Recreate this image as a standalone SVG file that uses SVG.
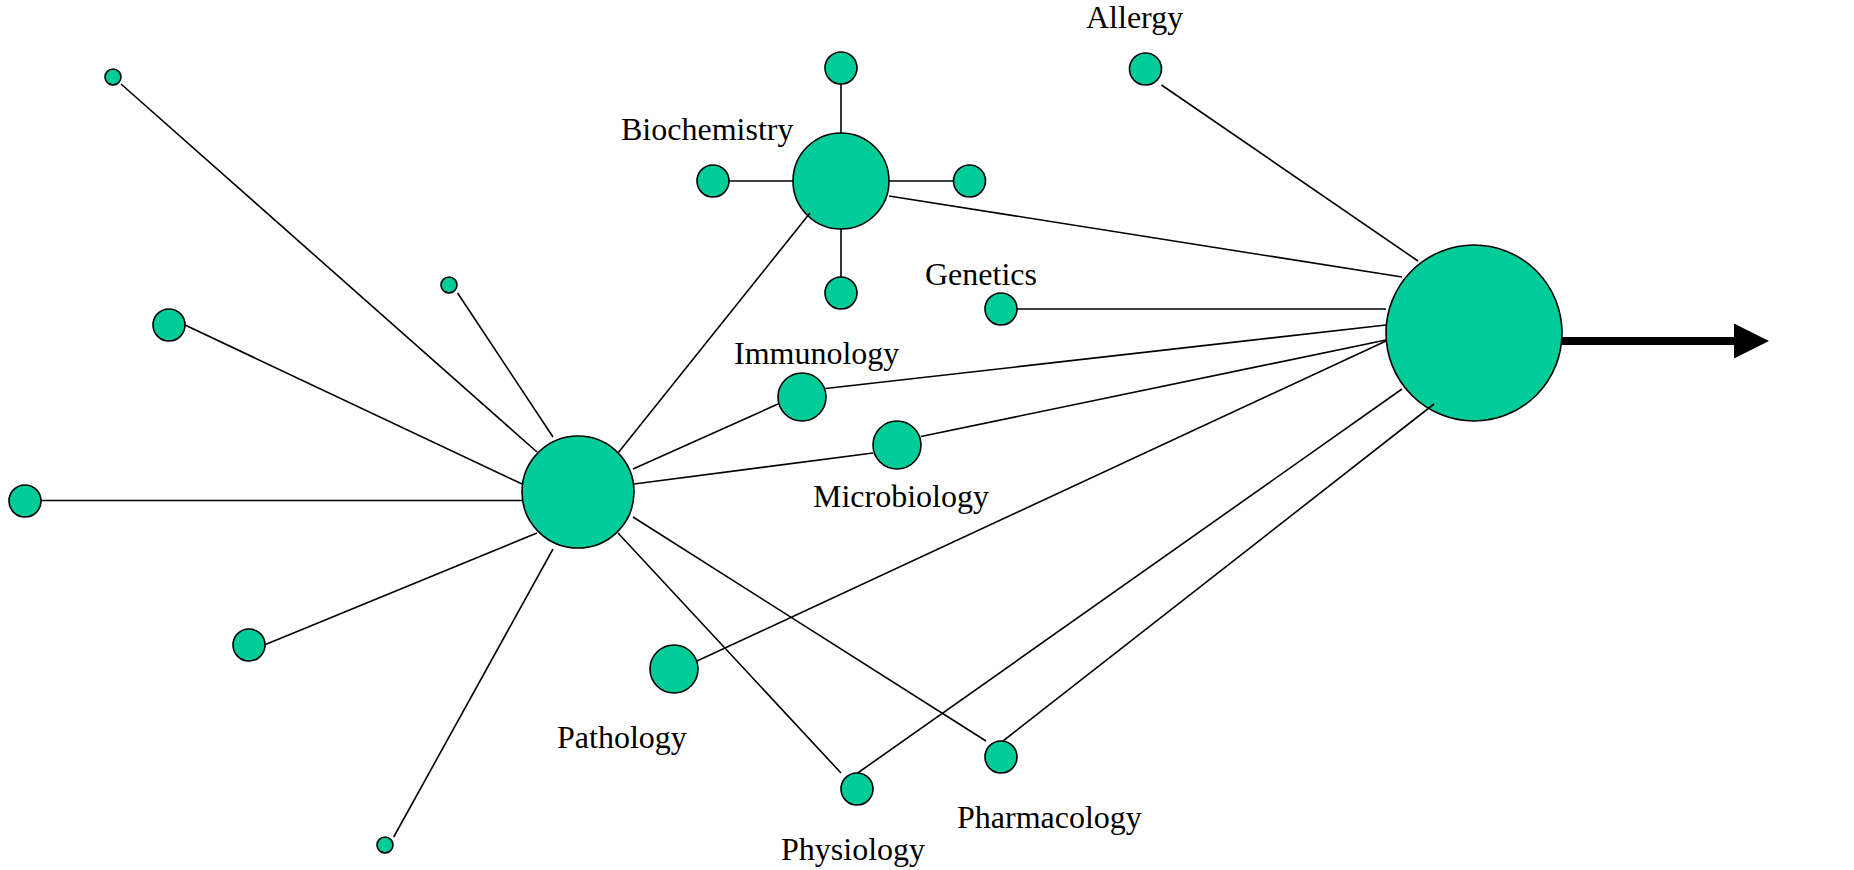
<svg xmlns="http://www.w3.org/2000/svg" width="1854" height="870" viewBox="0 0 1854 870">
<style>
.n{fill:#00CC99;stroke:#000;stroke-width:1.6}
.c line{stroke:#000;stroke-width:1.6;fill:none}
.t{font-family:"Liberation Serif","Times New Roman",serif;font-size:32px;fill:#000}
</style>
<defs>
<marker id="ah" markerUnits="userSpaceOnUse" markerWidth="40" markerHeight="40" refX="0" refY="17.5" orient="auto">
<path d="M0,0 L35,17.5 L0,35 Z" fill="#000"/>
</marker>
</defs>
<rect width="1854" height="870" fill="#fff"/>
<g id="n-hub-left"><circle class="n" cx="578" cy="492" r="56"/></g>
<g id="n-hub-right"><circle class="n" cx="1474" cy="333" r="88"/></g>
<g id="n-biochem"><circle class="n" cx="841" cy="181" r="48"/><text class="t" x="621" y="140">Biochemistry</text></g>
<g id="n-bio-top"><circle class="n" cx="841" cy="68" r="16"/></g>
<g id="n-bio-left"><circle class="n" cx="713" cy="181" r="16"/></g>
<g id="n-bio-right"><circle class="n" cx="969.5" cy="181" r="16"/></g>
<g id="n-bio-bottom"><circle class="n" cx="841" cy="293" r="16"/></g>
<g id="n-allergy"><circle class="n" cx="1145.5" cy="69" r="16"/><text class="t" x="1086" y="28">Allergy</text></g>
<g id="n-genetics"><circle class="n" cx="1001" cy="309" r="16"/><text class="t" x="925" y="285">Genetics</text></g>
<g id="n-immunology"><circle class="n" cx="802" cy="397" r="24"/><text class="t" x="734" y="364">Immunology</text></g>
<g id="n-microbiology"><circle class="n" cx="897" cy="445" r="24"/><text class="t" x="813" y="507">Microbiology</text></g>
<g id="n-pathology"><circle class="n" cx="674" cy="669" r="24"/><text class="t" x="557" y="748">Pathology</text></g>
<g id="n-physiology"><circle class="n" cx="857" cy="789" r="16"/><text class="t" x="781" y="860">Physiology</text></g>
<g id="n-pharmacology"><circle class="n" cx="1001" cy="757" r="16"/><text class="t" x="957" y="828">Pharmacology</text></g>
<g id="n-l1"><circle class="n" cx="113" cy="77" r="8"/></g>
<g id="n-l2"><circle class="n" cx="449" cy="285" r="8"/></g>
<g id="n-l3"><circle class="n" cx="169" cy="325" r="16"/></g>
<g id="n-l4"><circle class="n" cx="25" cy="501" r="16"/></g>
<g id="n-l5"><circle class="n" cx="249" cy="645" r="16"/></g>
<g id="n-l6"><circle class="n" cx="385" cy="845" r="8"/></g>
<g id="connectors" class="c">
<line x1="121" y1="84" x2="537" y2="452"/>
<line x1="457.6" y1="293" x2="553" y2="437"/>
<line x1="185" y1="325" x2="522" y2="484"/>
<line x1="41" y1="500.5" x2="522" y2="500.5"/>
<line x1="265.5" y1="644.5" x2="537" y2="533"/>
<line x1="393.7" y1="837" x2="553" y2="549"/>
<line x1="618" y1="453" x2="810" y2="213"/>
<line x1="633" y1="469" x2="778" y2="404"/>
<line x1="634" y1="484" x2="873" y2="453"/>
<line x1="633" y1="517" x2="986" y2="741"/>
<line x1="618" y1="533" x2="841" y2="773"/>
<line x1="841" y1="84" x2="841" y2="133"/>
<line x1="729" y1="181" x2="793" y2="181"/>
<line x1="889" y1="181" x2="953.5" y2="181"/>
<line x1="841" y1="229" x2="841" y2="277"/>
<line x1="889" y1="196" x2="1402" y2="277"/>
<line x1="1161.5" y1="85" x2="1418" y2="261"/>
<line x1="1017" y1="309" x2="1386" y2="309"/>
<line x1="825.5" y1="388.5" x2="1386" y2="325"/>
<line x1="921" y1="436.5" x2="1386" y2="340"/>
<line x1="697" y1="661" x2="1386" y2="341"/>
<line x1="857.7" y1="773" x2="1402" y2="389"/>
<line x1="1003" y1="741" x2="1434" y2="404"/>
<line x1="1562" y1="341" x2="1734" y2="341" style="stroke-width:8" marker-end="url(#ah)"/>
</g>
</svg>
